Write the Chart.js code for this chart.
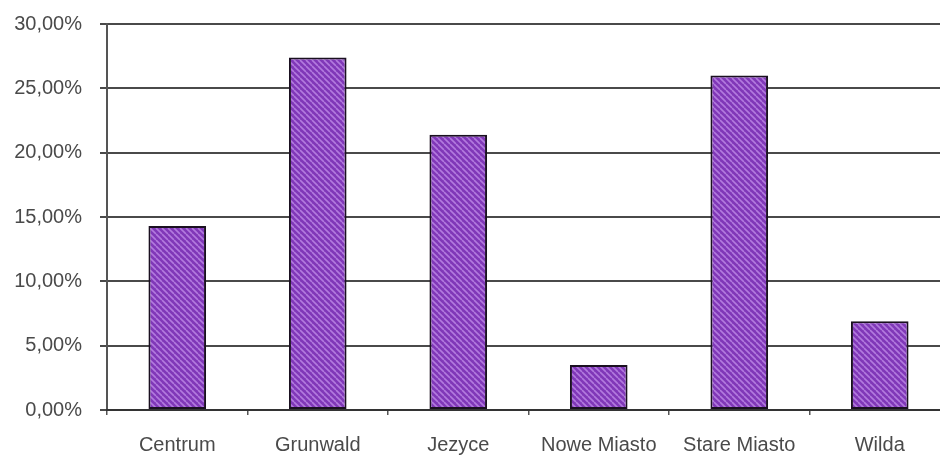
<!DOCTYPE html>
<html>
<head>
<meta charset="utf-8">
<script src="https://cdn.jsdelivr.net/npm/chart.js@4"></script>
<style>
html,body{margin:0;padding:0;background:#fff;overflow:hidden;}
#wrap{width:940px;height:457px;position:relative;overflow:hidden;}
</style>
</head>
<body>
<div id="wrap"><canvas id="c" width="950" height="457"></canvas></div>
<script>
const categories = ["Centrum", "Grunwald", "Jezyce", "Nowe Miasto", "Stare Miasto", "Wilda"];
const shares = [14.3, 27.4, 21.4, 3.5, 26.0, 6.9];
const yTicks = [0, 5, 10, 15, 20, 25, 30];

function makePattern() {
  const p = document.createElement('canvas');
  p.width = 6; p.height = 6;
  const g = p.getContext('2d');
  g.fillStyle = '#8038b8';
  g.fillRect(0, 0, 6, 6);
  g.strokeStyle = '#b27ade';
  g.lineWidth = 1.6;
  g.beginPath();
  for (let k = -6; k <= 12; k += 6) {
    g.moveTo(k, 0); g.lineTo(k + 6, 6);
  }
  g.stroke();
  return document.getElementById('c').getContext('2d').createPattern(p, 'repeat');
}

const fmt = v => v.toFixed(2).replace('.', ',') + '%';

new Chart(document.getElementById('c'), {
  type: 'bar',
  data: {
    labels: categories,
    datasets: [{
      data: shares,
      backgroundColor: makePattern(),
      borderColor: '#1a1020',
      borderWidth: 2,
      borderSkipped: false,
      categoryPercentage: 1,
      barPercentage: 0.41
    }]
  },
  options: {
    responsive: false,
    animation: false,
    layout: { padding: { top: 24, right: 0, left: 0, bottom: 0 } },
    plugins: { legend: { display: false }, tooltip: { enabled: false } },
    scales: {
      y: {
        min: 0, max: 30,
        afterBuildTicks: ax => { ax.ticks = yTicks.map(v => ({ value: v })); },
        afterFit: ax => { ax.width = 107; ax.paddingTop = 0; ax.paddingBottom = 0; },
        ticks: {
          callback: v => fmt(v),
          color: '#4a4a4a',
          font: { family: 'Liberation Sans, Arial, sans-serif', size: 20, lineHeight: 1 },
          padding: 18
        },
        grid: { color: '#4a4a4a', lineWidth: 2, tickLength: 7 },
        border: { color: '#555', width: 2 }
      },
      x: {
        afterFit: ax => { ax.height = 47; ax.paddingLeft = 0; ax.paddingRight = 0; },
        ticks: {
          color: '#4a4a4a',
          font: { family: 'Liberation Sans, Arial, sans-serif', size: 20 },
          padding: 18
        },
        grid: { offset: true, drawOnChartArea: false, color: '#555', lineWidth: 1.5, tickLength: 5 },
        border: { color: '#333', width: 2 }
      }
    }
  }
});
</script>
</body>
</html>
